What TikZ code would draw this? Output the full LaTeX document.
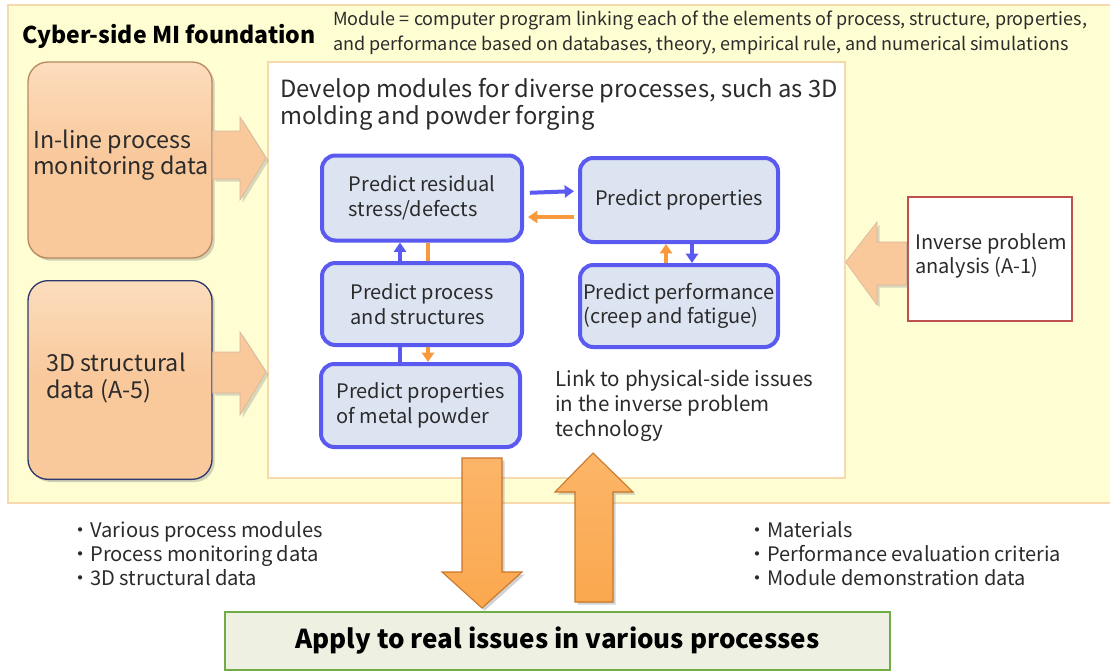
\documentclass[tikz,border=0pt]{standalone}
\usepackage{fontspec}
\setmainfont{Noto Sans CJK JP}
\usetikzlibrary{shadows,arrows.meta,calc}
\definecolor{bgy}{HTML}{FFFDD2}
\definecolor{bgyb}{HTML}{F6D9AC}
\definecolor{peachc}{HTML}{F9C89B}
\definecolor{peachl}{HTML}{FCDDBD}
\definecolor{peachd}{HTML}{B98A60}
\definecolor{navy}{HTML}{2E3A6E}
\definecolor{modb}{HTML}{5A5AF0}
\definecolor{modf}{HTML}{DCE4F1}
\definecolor{oarc}{HTML}{F89A3C}
\definecolor{redb}{HTML}{C0504D}
\definecolor{grn}{HTML}{70AD47}
\definecolor{grnf}{HTML}{EEF0E2}
\definecolor{bigc}{HTML}{FBA84E}
\definecolor{bigd}{HTML}{C9762A}
\definecolor{txt}{HTML}{2B2B2B}
\begin{document}
\begin{tikzpicture}[x=0.75pt,y=-0.75pt,
  peach/.style={rounded corners=15pt, top color=peachl, bottom color=peachc, middle color=peachc, line width=1pt, text=txt,
    drop shadow={opacity=0.35, shadow xshift=2pt, shadow yshift=-2pt},
    inner sep=0pt},
  modbox/.style={rounded corners=10pt, draw=modb, line width=3pt, fill=modf,
    align=left, font=\fontsize{15}{18.5}\selectfont, text=txt, inner sep=0pt},
  barr/.style={draw=modb, line width=3pt, -{Triangle[length=7pt,width=9pt]}},
  oarr/.style={draw=oarc, line width=3pt, -{Triangle[length=7pt,width=9pt]}},
  bline/.style={draw=modb, line width=3pt},
  oline/.style={draw=oarc, line width=3pt},
  blockarr/.style={fill=peachc, draw=peachd!60, line width=0.5pt,
    drop shadow={opacity=0.3, shadow xshift=2pt, shadow yshift=-2pt}},
  bigarr/.style={top color=bigc!85!white, bottom color=bigc, draw=bigd, line width=0.8pt,
    drop shadow={opacity=0.35, shadow xshift=2pt, shadow yshift=-2pt}},
  plain/.style={text=txt, align=left, inner sep=0pt}
]
\useasboundingbox (0,0) rectangle (1110,671);
% background
\fill[white] (0,0) rectangle (1110,671);
\path[fill=bgy, draw=bgyb, line width=1pt] (8,5) rectangle (1112,503);
\node[anchor=west, inner sep=0pt, font=\fontsize{17.3}{20}\selectfont\bfseries] (title) at (22,36) {Cyber-side MI foundation};
\node[plain, anchor=north west, font=\fontsize{13.5}{18.5}\selectfont] (modtxt) at (333,11)
  {Module = computer program linking each of the elements of process, structure, properties,\\
   and performance based on databases, theory, empirical rule, and numerical simulations};

% left boxes
\node[peach, draw=peachd, minimum width=138pt, minimum height=147pt] (inl) at (120,160) {};
\node[plain, anchor=west, font=\fontsize{17.5}{20}\selectfont] (inltxt) at (33,155) {In-line process\\monitoring data};
\node[peach, draw=navy, minimum width=138pt, minimum height=149pt] (s3d) at (120,380) {};
\node[plain, anchor=west, font=\fontsize{17.5}{20}\selectfont] (s3dtxt) at (46,378) {3D structural\\data (A-5)};

% white panel
\node[draw=bgyb, fill=white, line width=1pt, minimum width=432.75pt, minimum height=312pt, inner sep=0pt] (panel) at (556.5,270) {};
\node[plain, anchor=north west, font=\fontsize{17.8}{20.5}\selectfont] (ptxt) at (280,78)
  {Develop modules for diverse processes, such as 3D\\molding and powder forging};

% block arrows into panel
\path[blockarr] (inl.east |- 0,131) -- (240,131) -- (240,117) -- (266,158) -- (240,200) -- (240,179) -- (inl.east |- 0,179) -- cycle;
\path[blockarr] (s3d.east |- 0,352) -- (240,352) -- (240,332) -- (266,372) -- (240,415) -- (240,393) -- (s3d.east |- 0,393) -- cycle;

% modules
\node[modbox, minimum width=150pt, minimum height=63.75pt] (A) at (422,198) {Predict residual\\stress/defects};
\node[modbox, minimum width=148.5pt, minimum height=63pt] (B) at (679,200) {Predict properties};
\node[modbox, minimum width=150pt, minimum height=61.5pt] (C) at (422,304) {Predict process\\and structures};
\node[modbox, minimum width=148.5pt, minimum height=61.5pt] (D) at (679,306) {Predict performance\\(creep and fatigue)};
\node[modbox, minimum width=149.25pt, minimum height=62.25pt] (E) at (420.5,405.5) {Predict properties\\of metal powder};

\node[plain, anchor=north west, font=\fontsize{15.4}{18.8}\selectfont] (link) at (555,370)
  {Link to physical-side issues\\in the inverse problem\\technology};

% small connectors
\draw[barr, shorten <=4.5pt, shorten >=3pt] ([yshift=3.75pt]A.east) -- ([yshift=5.25pt]A.east -| B.west);
\draw[oarr, shorten <=3pt, shorten >=3pt] ([yshift=-12.75pt]B.west) -- ([yshift=-12.75pt]B.west -| A.east);
\draw[barr] ([xshift=-16.5pt]C.north) -- ([xshift=-16.5pt]A.south);
\draw[oline] ([xshift=4.5pt]A.south) -- ([xshift=4.5pt]C.north);
\draw[bline] ([xshift=-16.5pt]C.south) -- ([xshift=-16.5pt]C.south |- E.north);
\draw[oarr] ([xshift=4.5pt]C.south) -- ([xshift=4.5pt]C.south |- E.north);
\draw[oarr] ([xshift=-9.75pt]D.north) -- ([xshift=-9.75pt]B.south);
\draw[barr] ([xshift=9.75pt]B.south) -- ([xshift=9.75pt]D.north);

% inverse problem
\node[draw=redb, fill=white, line width=2.2pt, minimum width=123pt, minimum height=93pt, inner sep=0pt] (inv) at (990,259) {};
\node[plain, anchor=west, font=\fontsize{15}{18}\selectfont] (invtxt) at (915,256) {Inverse problem\\analysis (A-1)};
\path[blockarr] (inv.west |- 0,242) -- (877,242) -- (877,222) -- (panel.east |- 0,262) -- (877,305) -- (877,285) -- (inv.west |- 0,285) -- cycle;

% bottom box
\node[draw=grn, fill=grnf, line width=2.2pt, minimum width=498.75pt, minimum height=43.5pt, inner sep=0pt,
  font=\fontsize{19.5}{22}\selectfont\bfseries, text=black] (apply) at (557.5,641) {Apply to real issues in various processes};

% big arrows
\path[bigarr] (462,458) -- (502,458) -- (502,572) -- (522,572) -- (482,608) -- (442,572) -- (462,572) -- cycle;
\path[bigarr] (575,602) -- (575,492) -- (555,492) -- (593,453) -- (633,492) -- (613,492) -- (613,602) -- cycle;

% bullets
\node[plain, anchor=north west, font=\fontsize{15.1}{18}\selectfont] (bl) at (70,521)
  {・Various process modules\\・Process monitoring data\\・3D structural data};
\node[plain, anchor=north west, font=\fontsize{15}{18}\selectfont] (br) at (747,521)
  {・Materials\\・Performance evaluation criteria\\・Module demonstration data};
\end{tikzpicture}
\end{document}
